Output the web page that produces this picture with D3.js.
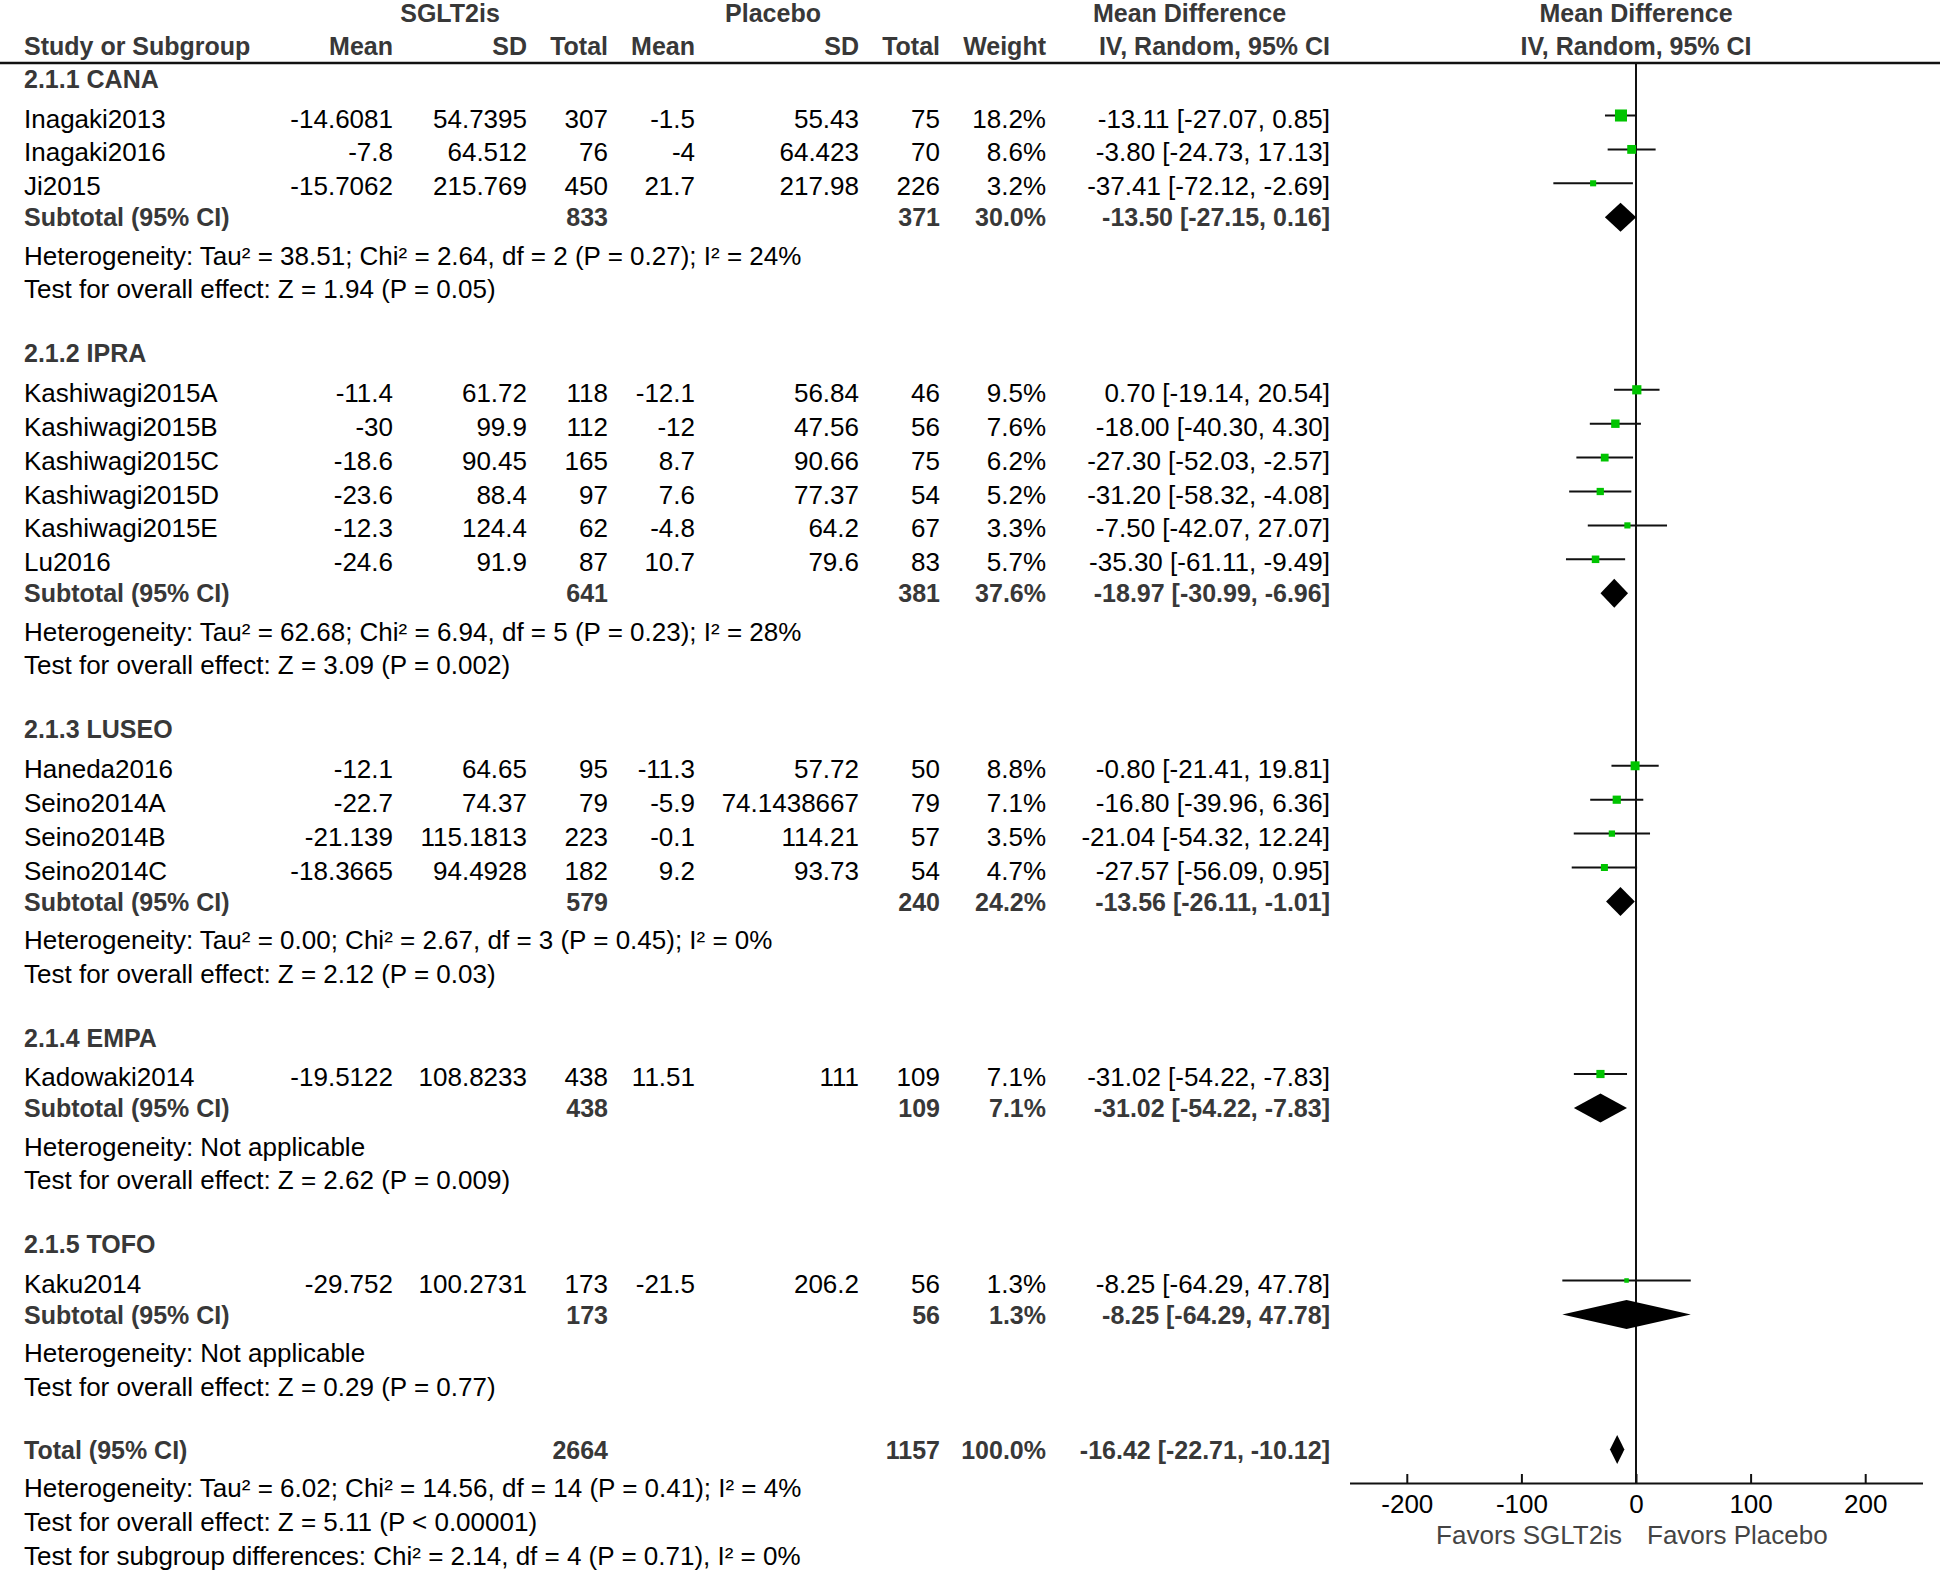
<!DOCTYPE html>
<html>
<head>
<meta charset="utf-8">
<script src="https://cdn.jsdelivr.net/npm/d3@7"></script>
<style>
body { margin: 0; background: #fff; }
text { font-family: "Liberation Sans", Arial, sans-serif; font-size: 26px; }
text.b { font-size: 25px; font-weight: bold; }
</style>
</head>
<body>
<div id="chart"></div>
<script>
// ---- data ----
const groupNames = ["2.1.1 CANA", "2.1.2 IPRA", "2.1.3 LUSEO", "2.1.4 EMPA", "2.1.5 TOFO"];

const studyNames = ["Inagaki2013", "Inagaki2016", "Ji2015",
    "Kashiwagi2015A", "Kashiwagi2015B", "Kashiwagi2015C", "Kashiwagi2015D", "Kashiwagi2015E", "Lu2016",
    "Haneda2016", "Seino2014A", "Seino2014B", "Seino2014C",
    "Kadowaki2014",
    "Kaku2014"];
const studyGroup = [0, 0, 0, 1, 1, 1, 1, 1, 1, 2, 2, 2, 2, 3, 4];

const sgltMean = [-14.6081, -7.8, -15.7062, -11.4, -30, -18.6, -23.6, -12.3, -24.6, -12.1, -22.7, -21.139, -18.3665, -19.5122, -29.752];
const sgltSD = [54.7395, 64.512, 215.769, 61.72, 99.9, 90.45, 88.4, 124.4, 91.9, 64.65, 74.37, 115.1813, 94.4928, 108.8233, 100.2731];
const sgltTotal = [307, 76, 450, 118, 112, 165, 97, 62, 87, 95, 79, 223, 182, 438, 173];
const placMean = [-1.5, -4, 21.7, -12.1, -12, 8.7, 7.6, -4.8, 10.7, -11.3, -5.9, -0.1, 9.2, 11.51, -21.5];
const placSD = [55.43, 64.423, 217.98, 56.84, 47.56, 90.66, 77.37, 64.2, 79.6, 57.72, 74.1438667, 114.21, 93.73, 111, 206.2];
const placTotal = [75, 70, 226, 46, 56, 75, 54, 67, 83, 50, 79, 57, 54, 109, 56];
const weights = [18.2, 8.6, 3.2, 9.5, 7.6, 6.2, 5.2, 3.3, 5.7, 8.8, 7.1, 3.5, 4.7, 7.1, 1.3];
const meanDiff = [-13.11, -3.80, -37.41, 0.70, -18.00, -27.30, -31.20, -7.50, -35.30, -0.80, -16.80, -21.04, -27.57, -31.02, -8.25];
const ciLow = [-27.07, -24.73, -72.12, -19.14, -40.30, -52.03, -58.32, -42.07, -61.11, -21.41, -39.96, -54.32, -56.09, -54.22, -64.29];
const ciHigh = [0.85, 17.13, -2.69, 20.54, 4.30, -2.57, -4.08, 27.07, -9.49, 19.81, 6.36, 12.24, 0.95, -7.83, 47.78];

const subSgltTotal = [833, 641, 579, 438, 173];
const subPlacTotal = [371, 381, 240, 109, 56];
const subWeight = [30.0, 37.6, 24.2, 7.1, 1.3];
const subMeanDiff = [-13.50, -18.97, -13.56, -31.02, -8.25];
const subLow = [-27.15, -30.99, -26.11, -54.22, -64.29];
const subHigh = [0.16, -6.96, -1.01, -7.83, 47.78];

const hetNotes = [
    "Heterogeneity: Tau\u00b2 = 38.51; Chi\u00b2 = 2.64, df = 2 (P = 0.27); I\u00b2 = 24%",
    "Heterogeneity: Tau\u00b2 = 62.68; Chi\u00b2 = 6.94, df = 5 (P = 0.23); I\u00b2 = 28%",
    "Heterogeneity: Tau\u00b2 = 0.00; Chi\u00b2 = 2.67, df = 3 (P = 0.45); I\u00b2 = 0%",
    "Heterogeneity: Not applicable",
    "Heterogeneity: Not applicable"
];
const effectNotes = [
    "Test for overall effect: Z = 1.94 (P = 0.05)",
    "Test for overall effect: Z = 3.09 (P = 0.002)",
    "Test for overall effect: Z = 2.12 (P = 0.03)",
    "Test for overall effect: Z = 2.62 (P = 0.009)",
    "Test for overall effect: Z = 0.29 (P = 0.77)"
];

// total row: SGLT2 n, placebo n, weight, MD, low, high
const totalValues = [2664, 1157, 100.0, -16.42, -22.71, -10.12];
const totalNotes = [
    "Heterogeneity: Tau\u00b2 = 6.02; Chi\u00b2 = 14.56, df = 14 (P = 0.41); I\u00b2 = 4%",
    "Test for overall effect: Z = 5.11 (P < 0.00001)",
    "Test for subgroup differences: Chi\u00b2 = 2.14, df = 4 (P = 0.71), I\u00b2 = 0%"
];

const axisTicks = [-200, -100, 0, 100, 200];
const favorLabels = ["Favors SGLT2is", "Favors Placebo"];

// ---- layout ----
const W = 1946, H = 1570;
const COL = { name: 24, m1: 393, sd1: 527, n1: 608, m2: 695, sd2: 859, n2: 940, w: 1046, ci: 1330 };
const GAP = { headToStudy: 39.5, study: 33.9, subtotal: 31, het: 38.5, test: 33.5, group: 64, total: 63 };
const BOLD_FILL = "#383838";
const GREEN = "#00c400";

const x = d3.scaleLinear().domain([-250, 250]).range([1349.5, 1922.5]);

const svg = d3.select("#chart").append("svg")
    .attr("width", W)
    .attr("height", H);
svg.append("rect").attr("width", W).attr("height", H).attr("fill", "#fff");

const fmtCI = (m, l, h) => `${m.toFixed(2)} [${l.toFixed(2)}, ${h.toFixed(2)}]`;
const pct = v => v.toFixed(1) + "%";

// build row list
const rows = [];
let y = 79;
groupNames.forEach((g, gi) => {
    if (gi > 0) y += GAP.group;
    rows.push({ type: "group", y, text: g });
    y += GAP.headToStudy;
    studyNames.forEach((s, si) => {
        if (studyGroup[si] !== gi) return;
        if (rows[rows.length - 1].type === "study") y += GAP.study;
        rows.push({ type: "study", y, i: si });
    });
    y += GAP.subtotal;
    rows.push({ type: "subtotal", y, g: gi });
    y += GAP.het;
    rows.push({ type: "note", y, text: hetNotes[gi] });
    y += GAP.test;
    rows.push({ type: "note", y, text: effectNotes[gi] });
});
y += GAP.total;
rows.push({ type: "total", y });
y += GAP.het;
rows.push({ type: "note", y, text: totalNotes[0] });
y += 34;
rows.push({ type: "note", y, text: totalNotes[1] });
y += 33.5;
rows.push({ type: "note", y, text: totalNotes[2] });

const AXIS_Y = 1483;
const HEAD_LINE_Y = 63;

// text helper: y is the visual middle of the line
function txt(g, xp, yp, s, anchor, bold, fill) {
    return g.append("text")
        .attr("class", bold ? "b" : null)
        .attr("x", xp)
        .attr("y", yp + 9)
        .attr("text-anchor", anchor || "start")
        .attr("fill", fill || (bold ? BOLD_FILL : "#000"))
        .text(s);
}

// ---- header ----
const head = svg.append("g");
txt(head, 450, 12.5, "SGLT2is", "middle", true);
txt(head, 773, 12.5, "Placebo", "middle", true);
txt(head, 1189.5, 12.5, "Mean Difference", "middle", true);
txt(head, x(0), 12.5, "Mean Difference", "middle", true);
txt(head, COL.name, 46, "Study or Subgroup", "start", true);
[["Mean", COL.m1], ["SD", COL.sd1], ["Total", COL.n1], ["Mean", COL.m2], ["SD", COL.sd2], ["Total", COL.n2], ["Weight", COL.w], ["IV, Random, 95% CI", COL.ci]]
    .forEach(([t, cx]) => txt(head, cx, 46, t, "end", true));
txt(head, x(0), 46, "IV, Random, 95% CI", "middle", true);

svg.append("line")
    .attr("x1", 0).attr("x2", 1940)
    .attr("y1", HEAD_LINE_Y).attr("y2", HEAD_LINE_Y)
    .attr("stroke", "#111").attr("stroke-width", 2.5);

// zero line
svg.append("line")
    .attr("x1", x(0)).attr("x2", x(0))
    .attr("y1", HEAD_LINE_Y).attr("y2", AXIS_Y)
    .attr("stroke", "#111").attr("stroke-width", 2);

// ---- table rows + plot marks ----
const body = svg.append("g");
const plot = svg.append("g");

function diamond(yc, m, l, h) {
    plot.append("path")
        .attr("d", `M${x(l)},${yc} L${x(m)},${yc - 14.5} L${x(h)},${yc} L${x(m)},${yc + 14.5} Z`)
        .attr("fill", "#000");
}

rows.forEach(r => {
    if (r.type === "group") {
        txt(body, COL.name, r.y, r.text, "start", true);
    } else if (r.type === "note") {
        txt(body, COL.name, r.y, r.text, "start", false);
    } else if (r.type === "study") {
        const i = r.i;
        txt(body, COL.name, r.y, studyNames[i]);
        txt(body, COL.m1, r.y, String(sgltMean[i]), "end");
        txt(body, COL.sd1, r.y, String(sgltSD[i]), "end");
        txt(body, COL.n1, r.y, String(sgltTotal[i]), "end");
        txt(body, COL.m2, r.y, String(placMean[i]), "end");
        txt(body, COL.sd2, r.y, String(placSD[i]), "end");
        txt(body, COL.n2, r.y, String(placTotal[i]), "end");
        txt(body, COL.w, r.y, pct(weights[i]), "end");
        txt(body, COL.ci, r.y, fmtCI(meanDiff[i], ciLow[i], ciHigh[i]), "end");

        const ym = r.y - 3;
        plot.append("line")
            .attr("x1", x(ciLow[i])).attr("x2", x(ciHigh[i]))
            .attr("y1", ym).attr("y2", ym)
            .attr("stroke", "#111").attr("stroke-width", 2);
        const side = 2.4 * Math.sqrt(weights[i]) + 1.8;
        plot.append("rect")
            .attr("x", x(meanDiff[i]) - side / 2)
            .attr("y", ym - side / 2)
            .attr("width", side).attr("height", side)
            .attr("fill", GREEN);
    } else if (r.type === "subtotal") {
        const g = r.g;
        txt(body, COL.name, r.y, "Subtotal (95% CI)", "start", true);
        txt(body, COL.n1, r.y, String(subSgltTotal[g]), "end", true);
        txt(body, COL.n2, r.y, String(subPlacTotal[g]), "end", true);
        txt(body, COL.w, r.y, pct(subWeight[g]), "end", true);
        txt(body, COL.ci, r.y, fmtCI(subMeanDiff[g], subLow[g], subHigh[g]), "end", true);
        diamond(r.y, subMeanDiff[g], subLow[g], subHigh[g]);
    } else if (r.type === "total") {
        const [n1, n2, w, m, l, h] = totalValues;
        txt(body, COL.name, r.y, "Total (95% CI)", "start", true);
        txt(body, COL.n1, r.y, String(n1), "end", true);
        txt(body, COL.n2, r.y, String(n2), "end", true);
        txt(body, COL.w, r.y, pct(w), "end", true);
        txt(body, COL.ci, r.y, fmtCI(m, l, h), "end", true);
        diamond(r.y, m, l, h);
    }
});

// ---- axis ----
const axis = svg.append("g")
    .attr("transform", `translate(0,${AXIS_Y})`)
    .call(d3.axisBottom(x).tickValues(axisTicks).tickSizeInner(-9).tickSizeOuter(0).tickPadding(12).tickFormat(d3.format("d")));
axis.select(".domain").attr("stroke", "#111").attr("stroke-width", 2);
axis.selectAll(".tick line").attr("stroke", "#111").attr("stroke-width", 2);
axis.selectAll(".tick text")
    .attr("font-size", 25.5)
    .attr("font-family", "Liberation Sans, Arial, sans-serif")
    .attr("fill", "#000")
    .text(d => d < 0 ? "-" + Math.abs(d) : String(d));

txt(svg, x(0) - 14, 1535, favorLabels[0], "end", false, "#444");
txt(svg, x(0) + 11, 1535, favorLabels[1], "start", false, "#444");
</script>
</body>
</html>
